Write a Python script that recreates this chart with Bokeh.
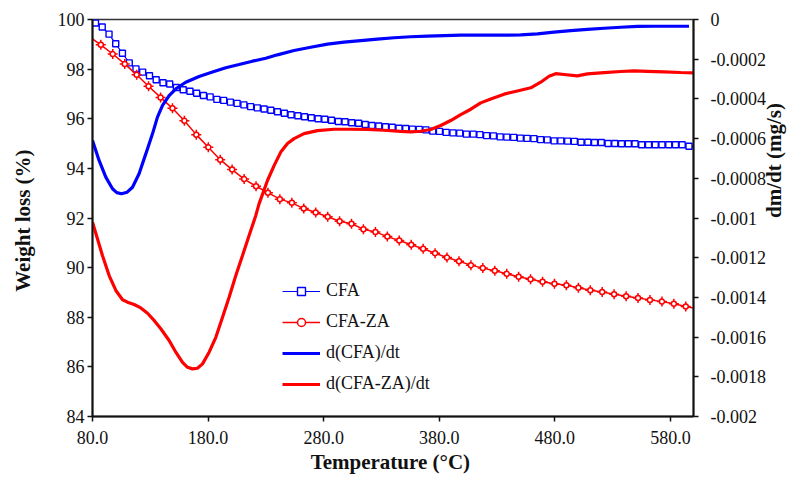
import math

from bokeh.plotting import figure
from bokeh.models import (Range1d, LinearAxis, FixedTicker, NumeralTickFormatter,
                          CustomJSTickFormatter, Legend, LegendItem)
from bokeh.embed import file_html
from bokeh.resources import INLINE

# ---- Thermogravimetric data -------------------------------------------------
# CFA weight loss (%); first/last entries are the curve ends at the axis limits
cfa_temp = [80.0, 82.6, 88.4, 94.3, 100.1, 105.9, 111.8, 117.6, 123.4, 129.3, 135.1,
            141.0, 146.8, 152.6, 158.5, 164.3, 170.1, 176.0, 181.8, 187.6, 193.5,
            199.3, 205.1, 211.0, 216.8, 222.6, 228.5, 234.3, 240.1, 246.0, 251.8,
            257.7, 263.5, 269.3, 275.2, 281.0, 286.8, 292.7, 298.5, 304.3, 310.2,
            316.0, 321.8, 327.7, 333.5, 339.3, 345.2, 351.0, 356.8, 362.7, 368.5,
            374.4, 380.2, 386.0, 391.9, 397.7, 403.5, 409.4, 415.2, 421.0, 426.9,
            432.7, 438.5, 444.4, 450.2, 456.0, 461.9, 467.7, 473.5, 479.4, 485.2,
            491.1, 496.9, 502.7, 508.6, 514.4, 520.2, 526.1, 531.9, 537.7, 543.6,
            549.4, 555.2, 561.1, 566.9, 572.7, 578.6, 584.4, 590.2, 596.1, 600.0]
cfa_weight = [100.00, 99.86, 99.70, 99.41, 99.02, 98.64, 98.25, 98.01, 97.88, 97.73, 97.57,
              97.45, 97.40, 97.26, 97.17, 97.11, 97.03, 96.94, 96.88, 96.78, 96.74,
              96.67, 96.62, 96.56, 96.49, 96.44, 96.39, 96.34, 96.28, 96.22, 96.16,
              96.12, 96.08, 96.04, 96.00, 95.98, 95.94, 95.89, 95.88, 95.84, 95.82,
              95.77, 95.73, 95.71, 95.68, 95.66, 95.62, 95.61, 95.58, 95.57, 95.55,
              95.50, 95.49, 95.45, 95.43, 95.42, 95.38, 95.38, 95.36, 95.32, 95.31,
              95.27, 95.26, 95.25, 95.22, 95.21, 95.20, 95.16, 95.15, 95.11, 95.11,
              95.10, 95.09, 95.05, 95.05, 95.04, 95.04, 95.00, 95.00, 94.99, 94.99,
              94.99, 94.95, 94.95, 94.95, 94.95, 94.95, 94.95, 94.95, 94.89, 94.88]

# CFA-ZA weight loss (%); first/last entries are the curve ends at the axis limits
cfaza_temp = [80.0, 87.2, 97.5, 107.9, 118.2, 128.5, 138.9, 149.2, 159.5, 169.8, 180.2,
              190.5, 200.8, 211.2, 221.5, 231.8, 242.1, 252.5, 262.8, 273.1, 283.5,
              293.8, 304.1, 314.4, 324.8, 335.1, 345.4, 355.8, 366.1, 376.4, 386.7,
              397.1, 407.4, 417.7, 428.1, 438.4, 448.7, 459.0, 469.4, 479.7, 490.0,
              500.4, 510.7, 521.0, 531.3, 541.7, 552.0, 562.3, 572.7, 583.0, 593.3, 600.0]
cfaza_weight = [99.22, 98.98, 98.61, 98.21, 97.77, 97.31, 96.86, 96.42, 95.92, 95.36, 94.85,
                94.35, 93.95, 93.57, 93.28, 93.02, 92.76, 92.61, 92.38, 92.22, 92.05,
                91.87, 91.77, 91.55, 91.44, 91.25, 91.09, 90.92, 90.76, 90.58, 90.41,
                90.26, 90.10, 89.98, 89.87, 89.75, 89.63, 89.53, 89.43, 89.35, 89.29,
                89.19, 89.09, 89.02, 88.93, 88.85, 88.78, 88.70, 88.63, 88.54, 88.43, 88.37]

# Derivative of CFA mass (mg/s)
dcfa_temp = [80.0, 85.7, 91.5, 97.3, 101.0, 105.1, 110.0, 114.6, 120.3, 126.1, 131.9,
             136.2, 140.6, 146.3, 152.1, 160.7, 172.2, 183.8, 195.3, 206.8, 218.4,
             229.9, 240.0, 254.4, 268.8, 283.3, 297.6, 312.1, 326.5, 340.9, 355.4,
             369.8, 384.2, 398.6, 415.9, 436.1, 450.5, 465.0, 479.3, 493.8, 508.2,
             522.6, 537.0, 551.5, 565.8, 580.3, 596.1]
dcfa_rate = [-0.000610, -0.000710, -0.000794, -0.000853, -0.000872, -0.000878, -0.000870,
             -0.000845, -0.000777, -0.000677, -0.000576, -0.000492, -0.000433, -0.000383,
             -0.000349, -0.000316, -0.000287, -0.000265, -0.000243, -0.000227, -0.000210,
             -0.000195, -0.000178, -0.000156, -0.000140, -0.000124, -0.000114, -0.000106,
             -0.000099, -0.000092, -0.000087, -0.000084, -0.000081, -0.000079, -0.000079,
             -0.000079, -0.000077, -0.000072, -0.000064, -0.000056, -0.000050, -0.000044,
             -0.000039, -0.000035, -0.000034, -0.000034, -0.000034]

# Derivative of CFA-ZA mass (mg/s)
dcfaza_temp = [80.0, 88.6, 94.4, 100.2, 106.0, 110.3, 116.0, 121.8, 127.6, 133.3, 139.1,
               146.3, 152.1, 157.9, 162.2, 166.5, 170.8, 175.2, 180.9, 186.7, 192.5,
               198.2, 204.0, 209.8, 215.5, 221.3, 224.1, 231.4, 237.1, 242.9, 248.7,
               254.4, 263.0, 274.6, 289.0, 303.4, 317.9, 332.2, 346.7, 355.3, 364.0,
               372.6, 381.3, 389.9, 398.6, 407.3, 415.9, 424.6, 436.1, 447.6, 459.2,
               467.8, 475.0, 480.8, 488.0, 499.5, 508.2, 522.6, 537.0, 548.5, 560.1,
               574.5, 588.9, 600.0]
dcfaza_rate = [-0.001021, -0.001189, -0.001290, -0.001365, -0.001412, -0.001424, -0.001436,
               -0.001453, -0.001480, -0.001516, -0.001558, -0.001617, -0.001676, -0.001727,
               -0.001752, -0.001760, -0.001757, -0.001735, -0.001676, -0.001601, -0.001500,
               -0.001399, -0.001290, -0.001189, -0.001088, -0.000987, -0.000929, -0.000811,
               -0.000736, -0.000668, -0.000625, -0.000600, -0.000575, -0.000560, -0.000553,
               -0.000553, -0.000554, -0.000558, -0.000564, -0.000566, -0.000563, -0.000554,
               -0.000534, -0.000509, -0.000479, -0.000452, -0.000420, -0.000400, -0.000376,
               -0.000360, -0.000344, -0.000316, -0.000286, -0.000273, -0.000277, -0.000284,
               -0.000274, -0.000268, -0.000262, -0.000259, -0.000261, -0.000264, -0.000267,
               -0.000269]

x_ticks = [80, 180, 280, 380, 480, 580]
weight_ticks = [84, 86, 88, 90, 92, 94, 96, 98, 100]
rate_ticks = [-0.002, -0.0018, -0.0016, -0.0014, -0.0012, -0.001, -0.0008,
              -0.0006, -0.0004, -0.0002, 0.0]

# ---- Styling ----------------------------------------------------------------
FONT = "Liberation Serif"
BLUE = "#0000ff"
RED = "#ff0000"
INK = "#111111"

p = figure(width=801, height=480, x_range=Range1d(80, 600), y_range=Range1d(84, 100),
           output_backend="svg", toolbar_location=None,
           min_border_left=92, min_border_right=108, min_border_top=19, min_border_bottom=64)
p.extra_y_ranges = {"rate": Range1d(-0.002, 0)}
p.xgrid.visible = False
p.ygrid.visible = False
p.outline_line_color = "#333333"
p.outline_line_width = 1.5
p.background_fill_color = "white"
p.border_fill_color = "white"


def style_axis(ax, label):
    ax.axis_label = label
    ax.axis_label_text_font = FONT
    ax.axis_label_text_font_style = "bold"
    ax.axis_label_text_font_size = "21px"
    ax.axis_label_text_color = INK
    ax.major_label_text_font = FONT
    ax.major_label_text_font_size = "18px"
    ax.major_label_text_color = INK
    ax.axis_line_color = INK
    ax.axis_line_width = 2
    ax.major_tick_line_color = INK
    ax.major_tick_line_width = 1.5
    ax.major_tick_out = 5
    ax.major_tick_in = 0
    ax.minor_tick_line_color = None


xa = p.xaxis[0]
style_axis(xa, "Temperature  (\u00b0C)")
xa.ticker = FixedTicker(ticks=x_ticks)
xa.formatter = NumeralTickFormatter(format="0.0")
xa.major_label_standoff = 9
xa.axis_label_standoff = 3

ya = p.yaxis[0]
style_axis(ya, "Weight  loss (%)")
ya.ticker = FixedTicker(ticks=weight_ticks)
ya.major_label_standoff = 3
ya.axis_label_standoff = 20

ra = LinearAxis(y_range_name="rate")
style_axis(ra, "dm/dt  (mg/s)")
ra.axis_label_orientation = math.pi / 2
ra.ticker = FixedTicker(ticks=rate_ticks)
ra.formatter = CustomJSTickFormatter(code="return String(Number(tick.toPrecision(6)));")
ra.major_label_standoff = 12
ra.axis_label_standoff = 5
p.add_layout(ra, "right")

# ---- Curves -----------------------------------------------------------------
cfa_line = p.line(cfa_temp, cfa_weight, line_color=BLUE, line_width=1.2)
cfa_pts = p.scatter(cfa_temp[1:-1], cfa_weight[1:-1], marker="square", size=6,
                    line_color=BLUE, line_width=1.4, fill_color="white")

cfaza_line = p.line(cfaza_temp, cfaza_weight, line_color=RED, line_width=1.5)
cfaza_cross = p.scatter(cfaza_temp[1:-1], cfaza_weight[1:-1], marker="cross", size=10,
                        line_color=RED, line_width=1.5)
cfaza_pts = p.scatter(cfaza_temp[1:-1], cfaza_weight[1:-1], marker="circle", size=5,
                      line_color=RED, line_width=1.5, fill_color="white")

dcfa_line = p.line(dcfa_temp, dcfa_rate, y_range_name="rate",
                   line_color=BLUE, line_width=3.2)
dcfaza_line = p.line(dcfaza_temp, dcfaza_rate, y_range_name="rate",
                     line_color=RED, line_width=3.2)

legend = Legend(items=[
    LegendItem(label="CFA", renderers=[cfa_line, cfa_pts]),
    LegendItem(label="CFA-ZA", renderers=[cfaza_line, cfaza_pts]),
    LegendItem(label="d(CFA)/dt", renderers=[dcfa_line]),
    LegendItem(label="d(CFA-ZA)/dt", renderers=[dcfaza_line]),
], location=(190, 22))
legend.border_line_color = None
legend.background_fill_alpha = 0
legend.padding = 0
legend.margin = 0
legend.spacing = 10
legend.glyph_width = 38
legend.glyph_height = 20
legend.label_height = 20
legend.label_standoff = 6
legend.label_text_font = FONT
legend.label_text_font_size = "18px"
legend.label_text_color = INK
p.add_layout(legend, "center")

open("out.html", "w").write(file_html(p, INLINE))
